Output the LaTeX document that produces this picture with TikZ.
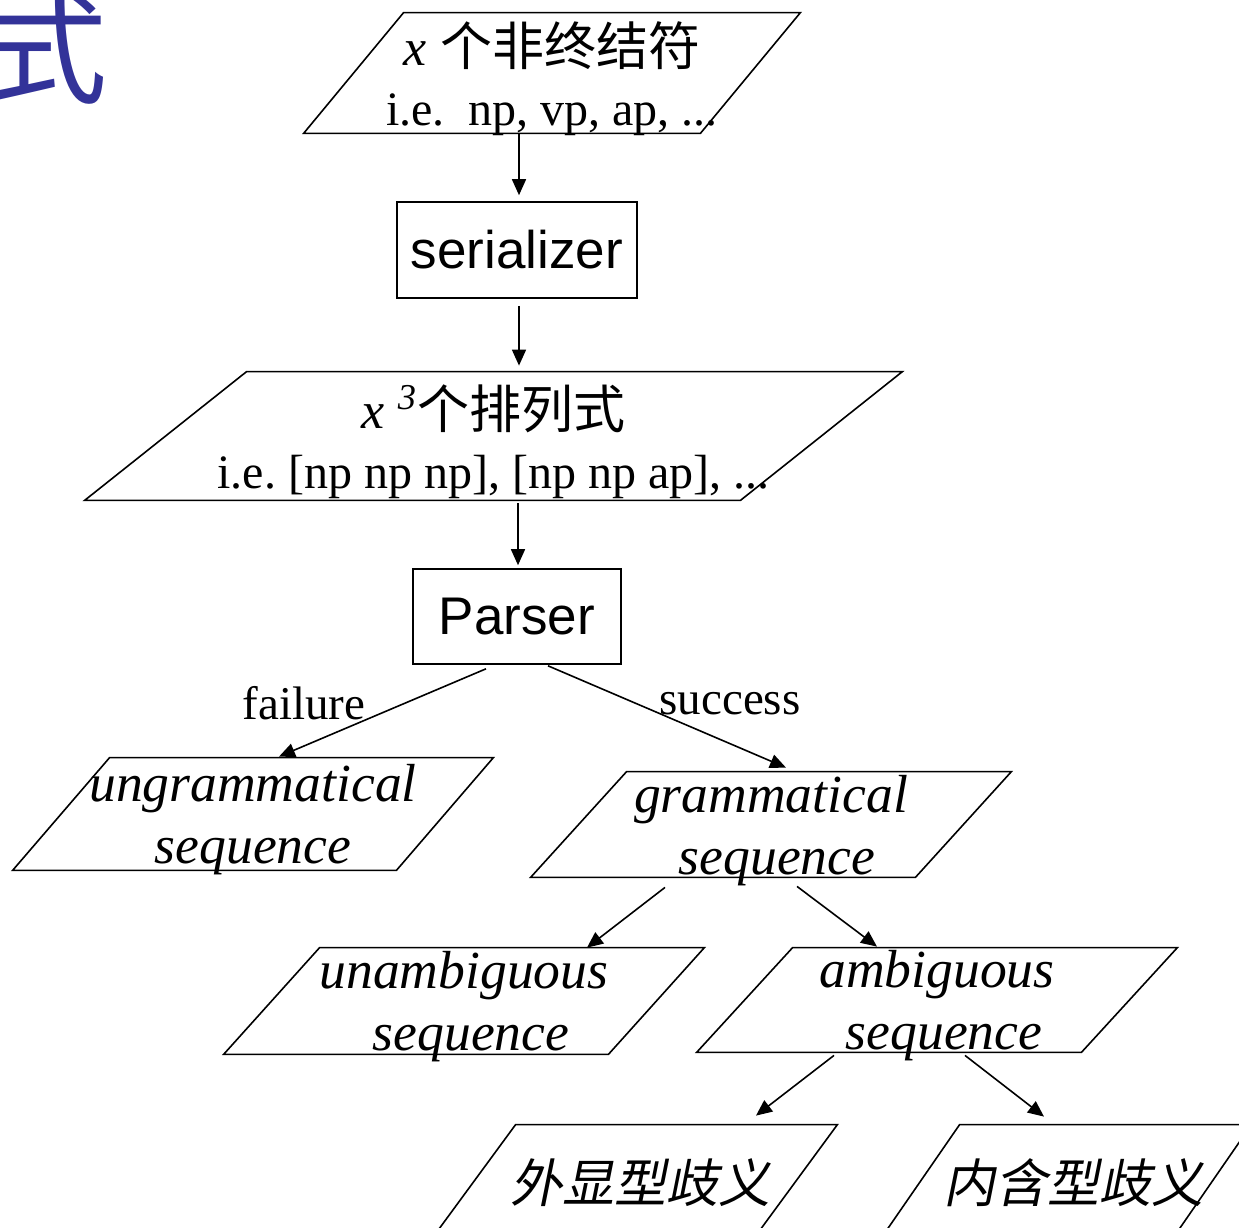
\documentclass[tikz,border=0pt]{standalone}
\usepackage{fontspec}
\setmainfont{Liberation Serif}
\setsansfont{Liberation Sans}
\newfontfamily\cjk{Noto Sans CJK SC}
\newfontfamily\cjkslant[FakeSlant=0.2]{Noto Sans CJK SC}
\usetikzlibrary{arrows.meta, calc}

\definecolor{titleblue}{RGB}{51,51,153}

% strut that sets the first line of a box
\newcommand{\lift}[1]{\rule{0pt}{#1}}
% smaller second line of the upper boxes
\newcommand{\eg}[1]{\smash{\fontsize{24}{30}\selectfont #1}}
% slanted outline round a (frameless) node
\newcommand{\slantframe}[2]{%
  \draw[ioframe] ([xshift=#2]#1.north west) -- (#1.north east)
    -- ([xshift=-#2]#1.south east) -- (#1.south west) -- cycle;}

\begin{document}
\begin{tikzpicture}[x=0.5pt, y=-0.5pt]

% Define styles
\tikzstyle{ioframe} = [draw=black, line width=0.8pt]
\tikzstyle{iobox} = [rectangle, inner sep=0pt, align=center, font=\fontsize{26}{30}\selectfont]
\tikzstyle{italbox} = [iobox, font=\itshape\fontsize{26.8}{31}\selectfont]
\tikzstyle{cjkbox} = [iobox, font=\cjkslant\fontsize{26}{30}\selectfont]
\tikzstyle{block} = [rectangle, draw=black, line width=0.8pt, inner sep=0pt, font=\sffamily\fontsize{26.5}{30}\selectfont]
\tikzstyle{line} = [draw, line width=0.8pt, -{Triangle[length=8pt, width=7pt]}]
\tikzstyle{branch} = [inner sep=0pt, font=\fontsize{23.5}{26}\selectfont]

\useasboundingbox (0,0) rectangle (1239,1228);
\clip (0,0) rectangle (1239,1228);

% Title remnant
\node [inner sep=0pt, text=titleblue, font=\cjk\fontsize{60}{60}\selectfont] (title) at (48,49) {式};

% Place nodes
\node [iobox, minimum width=248pt, minimum height=60pt] (nonterm) at (552,73)
  {\lift{22pt}\textit{x} {\cjk 个非终结符}\\\eg{i.e.\ \ np, vp, ap, ...}};
\slantframe{nonterm}{50pt}
\node [block, minimum width=120pt, minimum height=48pt] (serial) at (517,250) {serializer};
\node [iobox, minimum width=408.5pt, minimum height=64pt] (perm) at (493.5,436)
  {\lift{22pt}\textit{x} \textsuperscript{\textit{3}}{\cjk 个排列式}\\\eg{i.e.\ [np np np], [np np ap], ...}};
\slantframe{perm}{81pt}
\node [block, minimum width=104pt, minimum height=47.5pt] (parser) at (517,616.5) {Parser};

\node [italbox, minimum width=240pt, minimum height=56pt] (ungram) at (253,814)
  {\lift{17pt}ungrammatical\\\smash{sequence}};
\slantframe{ungram}{48.5pt}
\node [italbox, minimum width=240pt, minimum height=52.5pt] (gram) at (771,824.5)
  {\lift{17pt}grammatical\\\hspace*{6pt}\smash{sequence}};
\slantframe{gram}{48pt}
\node [italbox, minimum width=240pt, minimum height=53pt] (unamb) at (464,1001)
  {\lift{17pt}unambiguous\\\hspace*{7pt}\smash{sequence}};
\slantframe{unamb}{48pt}
\node [italbox, minimum width=240pt, minimum height=52pt] (amb) at (937,1000)
  {\lift{17pt}ambiguous\\\hspace*{7pt}\smash{sequence}};
\slantframe{amb}{48pt}
\node [cjkbox, minimum width=203pt, minimum height=57.5pt] (overt) at (634,1182.5) {\hspace*{6pt}外显型歧义};
\slantframe{overt}{42.5pt}
\node [cjkbox, minimum width=185.5pt, minimum height=57.5pt] (covert) at (1065.5,1182.5) {\hspace*{8pt}内含型歧义};
\slantframe{covert}{40pt}

% Branch labels
\node [branch, anchor=base] (fail) at (304,719) {failure};
\node [branch, anchor=base] (succ) at (730,714) {success};

% Draw edges
\path [line] ($(nonterm.south)+(-33,0)$) -- ($(serial.north)+(2,-6)$);
\path [line] ($(serial.south)+(2,7)$) -- ($(perm.north)+(25.5,-6)$);
\path [line] ($(perm.south)+(24.5,3)$) -- ($(parser.north)+(1,-3)$);
\path [line] ($(parser.south)+(-31,4)$) -- ($(ungram.north)+(26,-1)$);
\path [line] ($(parser.south)+(31,1)$) -- ($(gram.north)+(15,-4)$);
\path [line] ($(gram.south)+(-106,10)$) -- ($(unamb.north)+(123,0)$);
\path [line] ($(gram.south)+(26,9)$) -- ($(amb.north)+(-60,-1)$);
\path [line] ($(amb.south)+(-103,3)$) -- ($(overt.north)+(122,-9)$);
\path [line] ($(amb.south)+(28,3)$) -- ($(covert.north)+(-21.5,-8)$);

\end{tikzpicture}
\end{document}
